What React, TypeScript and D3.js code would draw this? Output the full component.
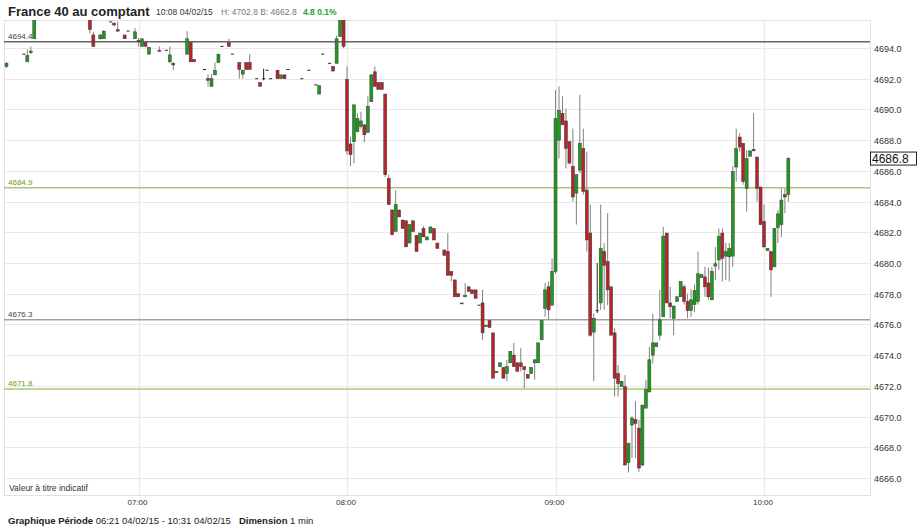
import React from "react";
import * as d3 from "d3";

// minutes after 06:21 (chart period start)
const minute = [
  1, 6, 7, 8, 9, 25, 26, 28, 29, 31, 32, 33, 35, 36, 38, 39, 40, 41, 42, 45,
  47, 48, 49, 53, 54, 55, 58, 59, 60, 61, 62, 63, 65, 66, 68, 69, 70, 71, 73, 74,
  75, 76, 77, 79, 80, 81, 82, 86, 88, 90, 91, 92, 94, 95, 96, 97, 98, 99, 100, 101,
  102, 103, 104, 105, 106, 107, 108, 109, 110, 111, 112, 113, 114, 115, 116, 117, 118, 119, 120, 121,
  122, 123, 124, 125, 127, 128, 129, 130, 131, 132, 133, 134, 135, 136, 137, 138, 139, 140, 141, 142,
  143, 144, 145, 146, 147, 148, 149, 150, 151, 152, 153, 154, 155, 156, 157, 158, 159, 160, 161, 162,
  163, 164, 165, 166, 167, 168, 169, 170, 171, 172, 173, 174, 175, 176, 177, 178, 179, 180, 181, 182,
  183, 184, 185, 186, 187, 188, 189, 190, 191, 192, 193, 194, 195, 196, 197, 198, 199, 200, 201, 202,
  203, 204, 205, 206, 207, 208, 209, 210, 211, 212, 213, 214, 215, 216, 217, 218, 219, 220, 221, 222,
  223, 224, 225, 226,
];
const open = [
  4692.8, 4693.6, 4693.1, 4693.7, 4694.6, 4696.0, 4694.85, 4694.6, 4694.6, 4695.7, 4695.6, 4695.2, 4694.85, 4695.1, 4694.6, 4694.5, 4694.1, 4694.35, 4693.6, 4693.85,
  4693.85, 4693.1, 4693.0, 4693.6, 4694.35, 4693.25, 4692.6, 4692.0, 4691.5, 4692.25, 4693.05, 4694.1, 4694.35, 4693.6, 4693.05, 4692.3, 4693.05, 4693.05, 4692.0, 4691.75,
  4692.0, 4692.55, 4692.0, 4692.55, 4692.0, 4692.25, 4692.6, 4692.0, 4692.55, 4691.6, 4691.0, 4693.6, 4693.0, 4692.8, 4693.0, 4694.75, 4696.0, 4691.95, 4687.75, 4687.9,
  4688.55, 4688.9, 4689.0, 4688.5, 4690.5, 4692.45, 4691.75, 4691.75, 4691.0, 4685.5, 4683.45, 4682.05, 4683.45, 4682.8, 4682.75, 4681.3, 4682.75, 4681.8, 4681.3, 4682.25,
  4681.5, 4681.95, 4682.25, 4681.3, 4680.85, 4680.75, 4679.45, 4678.9, 4678.0, 4677.35, 4677.8, 4678.45, 4678.25, 4678.25, 4677.25, 4677.4, 4675.85, 4676.25, 4675.45, 4672.85,
  4673.25, 4673.2, 4672.8, 4673.5, 4674.0, 4673.5, 4673.5, 4673.25, 4672.75, 4672.8, 4673.5, 4673.5, 4675.0, 4677.05, 4678.45, 4677.25, 4679.45, 4688.0, 4689.75, 4689.25,
  4687.9, 4686.3, 4684.55, 4686.05, 4687.45, 4684.75, 4681.95, 4675.5, 4676.9, 4677.4, 4680.75, 4680.1, 4678.45, 4675.45, 4672.8, 4671.95, 4671.95, 4667.0, 4669.45, 4669.8,
  4669.25, 4666.85, 4670.55, 4671.6, 4674.0, 4674.55, 4675.3, 4676.5, 4681.95, 4677.4, 4676.4, 4677.5, 4677.8, 4678.45, 4677.5, 4676.9, 4677.3, 4677.5, 4679.05, 4679.1,
  4678.7, 4677.6, 4679.8, 4680.2, 4681.95, 4680.45, 4680.4, 4680.45, 4686.25, 4688.2, 4687.8, 4684.85, 4686.95, 4687.4, 4686.9, 4684.95, 4682.7, 4680.8, 4680.75, 4679.75,
  4682.3, 4682.5, 4684.45, 4684.45,
];
const high = [
  4693.1, 4693.6, 4693.9, 4694.1, 4696.2, 4696.2, 4695.05, 4694.9, 4695.15, 4695.7, 4695.7, 4695.7, 4694.85, 4695.1, 4695.3, 4694.65, 4694.6, 4694.35, 4694.05, 4694.1,
  4693.85, 4694.1, 4693.1, 4695.1, 4694.4, 4693.25, 4692.6, 4692.3, 4692.3, 4693.05, 4693.6, 4694.1, 4694.6, 4693.6, 4693.05, 4692.6, 4693.05, 4693.6, 4692.0, 4691.75,
  4692.65, 4692.55, 4692.0, 4692.55, 4692.25, 4692.25, 4692.6, 4692.0, 4692.55, 4691.6, 4691.55, 4693.6, 4693.0, 4692.8, 4694.8, 4696.2, 4696.2, 4692.8, 4688.2, 4690.3,
  4689.75, 4689.85, 4689.0, 4690.85, 4692.3, 4692.8, 4691.75, 4691.75, 4691.0, 4685.75, 4683.5, 4684.75, 4683.45, 4682.8, 4682.75, 4682.5, 4682.75, 4681.8, 4681.95, 4682.4,
  4681.7, 4682.35, 4682.25, 4681.3, 4680.85, 4681.95, 4679.45, 4678.9, 4678.0, 4677.4, 4678.7, 4678.45, 4678.25, 4678.25, 4677.25, 4678.25, 4675.95, 4676.25, 4675.45, 4672.95,
  4673.5, 4673.2, 4673.7, 4674.25, 4674.8, 4673.5, 4674.45, 4673.25, 4672.75, 4673.2, 4673.7, 4674.8, 4676.25, 4678.7, 4678.8, 4680.3, 4691.25, 4691.5, 4690.85, 4690.05,
  4687.9, 4688.75, 4685.75, 4690.95, 4688.75, 4687.25, 4683.8, 4676.7, 4680.0, 4683.8, 4681.3, 4683.25, 4678.45, 4675.75, 4673.35, 4672.3, 4672.7, 4668.3, 4670.05, 4671.0,
  4669.8, 4670.75, 4672.4, 4674.55, 4676.7, 4674.8, 4678.25, 4682.35, 4681.95, 4678.45, 4677.2, 4677.8, 4678.8, 4678.6, 4678.0, 4678.3, 4678.6, 4680.75, 4679.25, 4679.75,
  4679.7, 4679.75, 4681.05, 4682.25, 4682.25, 4681.3, 4681.3, 4686.3, 4688.75, 4688.45, 4687.8, 4687.35, 4687.3, 4689.75, 4686.9, 4684.95, 4683.8, 4680.95, 4680.75, 4682.25,
  4683.45, 4684.85, 4684.85, 4686.9,
];
const low = [
  4692.7, 4693.6, 4693.1, 4693.6, 4694.6, 4694.95, 4694.05, 4694.55, 4694.6, 4695.7, 4695.4, 4695.05, 4694.6, 4695.1, 4694.6, 4694.1, 4694.1, 4694.1, 4693.6, 4693.75,
  4693.85, 4693.0, 4692.55, 4693.6, 4693.1, 4693.1, 4692.6, 4691.5, 4691.5, 4692.25, 4693.05, 4694.1, 4694.1, 4693.6, 4692.0, 4692.0, 4692.6, 4692.6, 4692.0, 4691.5,
  4691.9, 4692.55, 4692.0, 4692.0, 4692.0, 4692.0, 4692.6, 4692.0, 4692.55, 4691.6, 4691.0, 4693.6, 4693.0, 4692.5, 4693.0, 4694.75, 4694.0, 4687.05, 4686.3, 4686.5,
  4688.5, 4688.75, 4687.85, 4688.5, 4690.5, 4691.5, 4691.3, 4691.3, 4685.6, 4683.8, 4681.8, 4682.05, 4683.0, 4682.25, 4681.05, 4681.3, 4682.05, 4680.75, 4681.3, 4681.7,
  4681.5, 4681.95, 4681.5, 4680.95, 4680.5, 4679.2, 4678.8, 4677.8, 4677.8, 4677.35, 4677.8, 4678.15, 4678.0, 4677.7, 4677.25, 4675.0, 4675.85, 4675.8, 4672.5, 4672.85,
  4673.25, 4672.5, 4672.3, 4673.5, 4673.25, 4672.95, 4672.95, 4671.85, 4672.5, 4672.8, 4672.4, 4673.5, 4675.0, 4676.5, 4676.3, 4677.25, 4679.3, 4686.8, 4689.0, 4686.15,
  4686.5, 4684.0, 4682.5, 4685.85, 4684.45, 4680.75, 4675.2, 4672.3, 4676.75, 4676.95, 4676.95, 4677.25, 4675.3, 4671.3, 4671.3, 4671.95, 4666.8, 4666.35, 4667.3, 4667.3,
  4666.4, 4666.75, 4670.55, 4671.6, 4673.45, 4674.55, 4675.0, 4676.5, 4677.4, 4676.4, 4675.3, 4677.5, 4677.8, 4677.3, 4676.4, 4676.5, 4676.8, 4677.3, 4679.05, 4677.8,
  4677.6, 4677.6, 4678.9, 4679.55, 4678.8, 4678.9, 4678.8, 4679.75, 4685.3, 4687.25, 4685.1, 4683.35, 4686.95, 4687.3, 4684.0, 4682.5, 4680.95, 4680.8, 4677.8, 4679.75,
  4681.3, 4681.7, 4683.25, 4684.0,
];
const close = [
  4693.0, 4693.6, 4693.5, 4693.8, 4696.0, 4695.2, 4694.1, 4694.85, 4695.1, 4695.7, 4695.5, 4695.1, 4694.6, 4695.1, 4695.05, 4694.4, 4694.6, 4694.1, 4694.05, 4693.8,
  4693.85, 4693.55, 4692.9, 4694.6, 4693.1, 4693.1, 4692.6, 4691.9, 4692.0, 4692.55, 4693.6, 4694.1, 4694.1, 4693.6, 4692.6, 4692.55, 4692.6, 4692.6, 4692.0, 4691.5,
  4692.0, 4692.55, 4692.0, 4692.0, 4692.25, 4692.0, 4692.6, 4692.0, 4692.55, 4691.6, 4691.55, 4693.6, 4693.0, 4692.5, 4694.6, 4696.0, 4694.1, 4687.3, 4687.05, 4690.3,
  4689.4, 4689.25, 4688.35, 4690.2, 4692.25, 4691.5, 4691.3, 4691.3, 4685.75, 4683.8, 4681.85, 4683.8, 4683.0, 4682.25, 4681.05, 4682.5, 4682.05, 4680.75, 4681.95, 4681.7,
  4681.7, 4682.35, 4681.5, 4680.95, 4680.5, 4679.2, 4679.2, 4677.8, 4677.8, 4677.4, 4677.9, 4678.15, 4678.0, 4677.7, 4677.25, 4675.45, 4675.95, 4675.8, 4672.5, 4672.95,
  4673.5, 4672.5, 4673.25, 4674.25, 4673.25, 4672.95, 4673.25, 4673.05, 4672.5, 4673.2, 4673.7, 4674.8, 4676.25, 4678.25, 4676.95, 4679.45, 4689.4, 4689.95, 4689.0, 4687.45,
  4686.5, 4684.3, 4685.75, 4687.8, 4684.65, 4681.5, 4675.3, 4676.4, 4676.9, 4680.95, 4679.85, 4678.25, 4675.3, 4672.5, 4672.15, 4672.3, 4666.85, 4668.25, 4669.9, 4669.55,
  4666.65, 4670.75, 4671.75, 4673.7, 4674.8, 4674.8, 4676.3, 4681.75, 4677.4, 4677.15, 4677.2, 4677.8, 4678.8, 4677.5, 4676.9, 4677.6, 4678.2, 4679.3, 4679.25, 4678.45,
  4677.8, 4679.45, 4679.95, 4681.75, 4680.3, 4680.75, 4680.95, 4685.95, 4687.45, 4687.55, 4685.3, 4686.8, 4687.3, 4687.3, 4684.85, 4682.5, 4681.05, 4680.95, 4679.55, 4682.25,
  4683.2, 4684.1, 4684.3, 4686.8,
];

const yTicks = [4666, 4668, 4670, 4672, 4674, 4676, 4678, 4680, 4682, 4684, 4686, 4688, 4690, 4692, 4694];
const hourOffsets = [39, 99, 159, 219];
const hourLabels = ["07:00", "08:00", "09:00", "10:00"];
const refValues = [4694.4, 4684.9, 4676.3, 4671.8];
const refKinds = ["dark", "green", "gray", "green"];
const lastPrice = 4686.8;

const W = 922;
const H = 531;
const plotLeft = 4;
const plotRight = 870;
const plotTop = 20;
const plotBottom = 495;

export default function App() {
  const x = d3.scaleLinear().domain([0, 250]).range([3, 871.75]);
  const y = d3.scaleLinear().domain([4666, 4694]).range([478, 48]);
  const font = "Arial, 'Liberation Sans', Helvetica, sans-serif";
  const green = "#1f9a1f";
  const red = "#b8242a";
  const refColor: Record<string, string> = { dark: "#666", green: "#a8c878", gray: "#a0a0a0" };
  const refText: Record<string, string> = { dark: "#444", green: "#6a9a1a", gray: "#444" };

  return (
    <svg
      width={W}
      height={H}
      style={{ position: "absolute", left: 0, top: 0, background: "#fff" }}
      fontFamily={font}
    >
      <defs>
        <clipPath id="plotclip">
          <rect x={plotLeft} y={plotTop} width={plotRight - plotLeft} height={plotBottom - plotTop} />
        </clipPath>
      </defs>
      {/* header */}
      <text x={8} y={16} fontSize={13} fontWeight="bold" fill="#222">France 40 au comptant</text>
      <text x={156} y={15} fontSize={8.5} fill="#333">10:08 04/02/15</text>
      <text x={221} y={15} fontSize={8.5} fill="#777">H: 4702.8 B: 4662.8</text>
      <text x={303} y={15} fontSize={8.5} fontWeight="bold" fill="#2aa02a">4.8 0.1%</text>

      {/* grid */}
      {yTicks.map((v) => (
        <line key={"g" + v} x1={plotLeft} x2={plotRight} y1={Math.round(y(v)) + 0.5} y2={Math.round(y(v)) + 0.5} stroke="#e9e9e9" strokeWidth={1} />
      ))}
      {hourOffsets.map((m) => (
        <line key={"v" + m} x1={Math.round(x(m)) + 0.5} x2={Math.round(x(m)) + 0.5} y1={plotTop} y2={plotBottom} stroke="#ececec" strokeWidth={1.5} />
      ))}
      <rect x={plotLeft + 0.5} y={plotTop + 0.5} width={plotRight - plotLeft} height={plotBottom - plotTop} fill="none" stroke="#e2e2e2" />

      {/* reference lines */}
      {refValues.map((v, i) => (
        <g key={"r" + v}>
          <line x1={plotLeft} x2={plotRight} y1={y(v)} y2={y(v)} stroke={refColor[refKinds[i]]} strokeWidth={1.5} />
          <text x={8} y={y(v) - 3} fontSize={8} fill={refText[refKinds[i]]}>{v.toFixed(1)}</text>
        </g>
      ))}

      {/* candles */}
      <g clipPath="url(#plotclip)">
        {minute.map((m, i) => {
          const cx = x(m);
          const o = open[i];
          const c = close[i];
          const up = c > o;
          const flat = c === o;
          const top = y(Math.max(o, c));
          const bot = y(Math.min(o, c));
          return (
            <g key={"c" + m}>
              {high[i] !== low[i] && (
                <line x1={cx} x2={cx} y1={y(high[i])} y2={y(low[i])} stroke={flat ? "#222" : "#808080"} strokeWidth={1} />
              )}
              {flat ? (
                <line x1={cx - 1.5} x2={cx + 1.5} y1={top} y2={top} stroke="#222" strokeWidth={1} />
              ) : (
                <rect x={cx - 1.5} y={top} width={3} height={Math.max(1, bot - top)} fill={up ? green : red} stroke="#3a3a3a" strokeWidth={0.5} />
              )}
            </g>
          );
        })}
      </g>

      {/* y axis labels */}
      {yTicks.map((v) => (
        <text key={"t" + v} x={874} y={y(v) + 4} fontSize={9} fill="#333">{v.toFixed(1)}</text>
      ))}

      {/* last price box */}
      <rect x={870.5} y={y(lastPrice) - 6.5} width={46} height={13} fill="#fff" stroke="#222" strokeWidth={1} />
      <text x={872} y={y(lastPrice) + 4.5} fontSize={12} fill="#111">{lastPrice.toFixed(1)}</text>

      {/* x labels */}
      {hourOffsets.map((m, i) => (
        <text key={"x" + m} x={x(m) - 1} y={505} fontSize={8} textAnchor="middle" fill="#333">{hourLabels[i]}</text>
      ))}

      <text x={9} y={491} fontSize={8.5} fill="#333">Valeur à titre indicatif</text>

      {/* footer */}
      <text x={8} y={524} fontSize={9.5} fill="#222">
        <tspan fontWeight="bold">Graphique Période</tspan>
        <tspan> 06:21 04/02/15 - 10:31 04/02/15</tspan>
        <tspan fontWeight="bold" dx={8}>Dimension</tspan>
        <tspan> 1 min</tspan>
      </text>
    </svg>
  );
}
